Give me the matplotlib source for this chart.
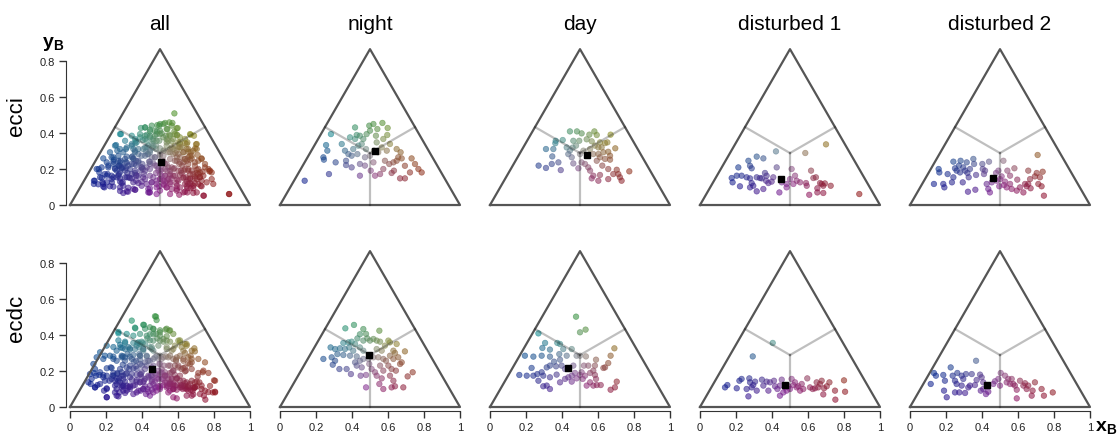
import numpy as np
import matplotlib.pyplot as plt

plt.rcParams['font.family'] = ['Liberation Sans', 'DejaVu Sans']
plt.rcParams['mathtext.fontset'] = 'custom'
plt.rcParams['mathtext.rm'] = 'Liberation Sans'
plt.rcParams['mathtext.bf'] = 'Liberation Sans:bold'

columns = ['all', 'night', 'day', 'disturbed 1', 'disturbed 2']
rows = ['ecci', 'ecdc']
xticks = [0, 0.2, 0.4, 0.6, 0.8, 1]
xticklabels = ['0', '0.2', '0.4', '0.6', '0.8', '1']
yticks = [0, 0.2, 0.4, 0.6, 0.8]
yticklabels = ['0', '0.2', '0.4', '0.6', '0.8']

# points (x_B, y_B)
ecci_night = [(0.137, 0.135), (0.283, 0.394), (0.256, 0.333), (0.263, 0.302), (0.241, 0.265),
              (0.244, 0.252), (0.309, 0.237), (0.272, 0.172), (0.343, 0.339), (0.361, 0.302),
              (0.389, 0.376), (0.417, 0.431), (0.417, 0.367), (0.426, 0.389), (0.444, 0.385),
              (0.454, 0.339), (0.463, 0.367), (0.481, 0.394), (0.496, 0.441), (0.519, 0.450),
              (0.541, 0.422), (0.569, 0.456), (0.598, 0.428), (0.500, 0.413), (0.533, 0.385),
              (0.574, 0.367), (0.596, 0.389), (0.380, 0.283), (0.367, 0.246), (0.398, 0.274),
              (0.407, 0.311), (0.430, 0.283), (0.444, 0.228), (0.398, 0.209), (0.367, 0.222),
              (0.472, 0.265), (0.500, 0.274), (0.522, 0.302), (0.546, 0.293), (0.565, 0.320),
              (0.593, 0.302), (0.611, 0.339), (0.583, 0.246), (0.607, 0.228), (0.630, 0.237),
              (0.648, 0.246), (0.657, 0.265), (0.676, 0.259), (0.694, 0.218), (0.731, 0.259),
              (0.750, 0.228), (0.769, 0.200), (0.787, 0.181), (0.722, 0.181), (0.694, 0.148),
              (0.667, 0.148), (0.633, 0.191), (0.620, 0.178), (0.574, 0.200), (0.556, 0.172),
              (0.528, 0.163), (0.504, 0.191), (0.444, 0.163), (0.472, 0.219), (0.519, 0.237),
              (0.648, 0.311), (0.670, 0.293), (0.435, 0.330), (0.478, 0.311), (0.537, 0.348)]
ecci_day = [(0.444, 0.409), (0.483, 0.409), (0.509, 0.398), (0.552, 0.391), (0.580, 0.409),
            (0.593, 0.389), (0.670, 0.391), (0.404, 0.361), (0.365, 0.357), (0.363, 0.343),
            (0.463, 0.357), (0.496, 0.357), (0.537, 0.365), (0.565, 0.354), (0.611, 0.348),
            (0.639, 0.344), (0.652, 0.348), (0.478, 0.330), (0.459, 0.319), (0.426, 0.320),
            (0.444, 0.302), (0.583, 0.330), (0.602, 0.320), (0.620, 0.320), (0.556, 0.311),
            (0.696, 0.315), (0.311, 0.311), (0.352, 0.311), (0.519, 0.302), (0.657, 0.296),
            (0.630, 0.293), (0.574, 0.283), (0.602, 0.283), (0.667, 0.274), (0.500, 0.283),
            (0.435, 0.283), (0.454, 0.265), (0.346, 0.270), (0.380, 0.237), (0.343, 0.228),
            (0.311, 0.206), (0.270, 0.219), (0.393, 0.194), (0.463, 0.231), (0.491, 0.204),
            (0.509, 0.237), (0.528, 0.228), (0.546, 0.209), (0.593, 0.246), (0.611, 0.265),
            (0.639, 0.256), (0.667, 0.252), (0.624, 0.219), (0.657, 0.200), (0.704, 0.196),
            (0.556, 0.191), (0.574, 0.163), (0.602, 0.135), (0.611, 0.167), (0.657, 0.144),
            (0.685, 0.172), (0.722, 0.154), (0.731, 0.135), (0.774, 0.187), (0.713, 0.172),
            (0.565, 0.148)]
ecci_d1 = [(0.422, 0.298), (0.585, 0.289), (0.700, 0.337), (0.885, 0.061), (0.315, 0.269),
           (0.352, 0.259), (0.269, 0.246), (0.213, 0.209), (0.278, 0.218), (0.287, 0.204),
           (0.426, 0.209), (0.509, 0.200), (0.617, 0.191), (0.176, 0.150), (0.181, 0.126),
           (0.204, 0.163), (0.231, 0.163), (0.259, 0.154), (0.278, 0.148), (0.315, 0.154),
           (0.333, 0.150), (0.361, 0.178), (0.370, 0.163), (0.367, 0.135), (0.380, 0.122),
           (0.398, 0.130), (0.407, 0.154), (0.222, 0.104), (0.278, 0.098), (0.296, 0.107),
           (0.315, 0.076), (0.352, 0.089), (0.441, 0.070), (0.454, 0.126), (0.481, 0.117),
           (0.481, 0.098), (0.500, 0.144), (0.519, 0.117), (0.528, 0.163), (0.537, 0.135),
           (0.556, 0.126), (0.589, 0.122), (0.593, 0.107), (0.607, 0.057), (0.630, 0.150),
           (0.644, 0.154), (0.652, 0.093), (0.652, 0.070), (0.667, 0.122), (0.676, 0.117),
           (0.685, 0.107), (0.685, 0.067), (0.694, 0.120), (0.726, 0.107), (0.287, 0.122),
           (0.343, 0.148)]
ecci_d2 = [(0.133, 0.117), (0.159, 0.200), (0.163, 0.181), (0.185, 0.117), (0.191, 0.098),
           (0.209, 0.172), (0.233, 0.126), (0.241, 0.241), (0.241, 0.154), (0.250, 0.204),
           (0.259, 0.191), (0.272, 0.219), (0.278, 0.181), (0.281, 0.246), (0.293, 0.126),
           (0.296, 0.209), (0.306, 0.191), (0.315, 0.237), (0.319, 0.178), (0.326, 0.154),
           (0.322, 0.074), (0.333, 0.200), (0.352, 0.256), (0.356, 0.228), (0.363, 0.085),
           (0.367, 0.167), (0.402, 0.228), (0.404, 0.200), (0.411, 0.172), (0.426, 0.117),
           (0.439, 0.241), (0.444, 0.070), (0.417, 0.191), (0.435, 0.089), (0.454, 0.126),
           (0.478, 0.178), (0.481, 0.135), (0.491, 0.191), (0.500, 0.144), (0.509, 0.159),
           (0.519, 0.246), (0.522, 0.111), (0.528, 0.130), (0.537, 0.098), (0.541, 0.191),
           (0.556, 0.117), (0.565, 0.089), (0.580, 0.204), (0.593, 0.080), (0.596, 0.141),
           (0.611, 0.098), (0.630, 0.070), (0.639, 0.117), (0.648, 0.104), (0.657, 0.191),
           (0.657, 0.117), (0.667, 0.144), (0.670, 0.093), (0.694, 0.159), (0.704, 0.178),
           (0.709, 0.278), (0.713, 0.117), (0.722, 0.154), (0.731, 0.104), (0.737, 0.185),
           (0.744, 0.052), (0.556, 0.163), (0.496, 0.104)]
ecci_all_extra = [(0.394, 0.428), (0.417, 0.431), (0.454, 0.441), (0.485, 0.444), (0.500, 0.450),
                  (0.528, 0.456), (0.552, 0.459), (0.565, 0.441), (0.593, 0.426), (0.537, 0.422),
                  (0.472, 0.413), (0.444, 0.419), (0.580, 0.509),
                  (0.278, 0.394), (0.343, 0.385), (0.361, 0.367), (0.389, 0.394), (0.417, 0.385),
                  (0.444, 0.376), (0.472, 0.385), (0.500, 0.394), (0.519, 0.376), (0.556, 0.385),
                  (0.583, 0.394), (0.611, 0.376), (0.639, 0.367), (0.667, 0.394), (0.689, 0.385),
                  (0.704, 0.339), (0.306, 0.357), (0.370, 0.348), (0.426, 0.357), (0.481, 0.357),
                  (0.546, 0.357), (0.602, 0.348), (0.648, 0.339), (0.250, 0.330), (0.278, 0.311),
                  (0.315, 0.320), (0.343, 0.330), (0.380, 0.311), (0.417, 0.320), (0.463, 0.330),
                  (0.500, 0.315), (0.537, 0.330), (0.574, 0.311), (0.611, 0.320), (0.657, 0.311),
                  (0.685, 0.302), (0.704, 0.311), (0.222, 0.293), (0.296, 0.293), (0.361, 0.293),
                  (0.444, 0.293), (0.556, 0.293), (0.630, 0.293), (0.185, 0.259), (0.231, 0.265),
                  (0.269, 0.274), (0.306, 0.256), (0.343, 0.265), (0.380, 0.246), (0.417, 0.274),
                  (0.472, 0.265), (0.519, 0.274), (0.556, 0.256), (0.593, 0.265), (0.639, 0.256),
                  (0.676, 0.274), (0.713, 0.246), (0.731, 0.256), (0.204, 0.237), (0.278, 0.237),
                  (0.444, 0.241), (0.611, 0.237), (0.694, 0.237), (0.148, 0.200), (0.176, 0.209),
                  (0.213, 0.219), (0.250, 0.200), (0.287, 0.209), (0.324, 0.219), (0.361, 0.191),
                  (0.398, 0.209), (0.444, 0.200), (0.481, 0.219), (0.528, 0.200), (0.565, 0.209),
                  (0.602, 0.191), (0.639, 0.200), (0.676, 0.191), (0.713, 0.200), (0.750, 0.209),
                  (0.778, 0.191), (0.241, 0.228), (0.537, 0.228), (0.657, 0.228), (0.133, 0.135),
                  (0.167, 0.154), (0.194, 0.172), (0.231, 0.144), (0.269, 0.163), (0.306, 0.154),
                  (0.343, 0.172), (0.380, 0.163), (0.417, 0.144), (0.463, 0.154), (0.500, 0.172),
                  (0.546, 0.144), (0.583, 0.163), (0.630, 0.154), (0.667, 0.172), (0.704, 0.144),
                  (0.741, 0.163), (0.787, 0.144), (0.796, 0.117), (0.759, 0.126), (0.204, 0.126),
                  (0.278, 0.130), (0.352, 0.126), (0.519, 0.135), (0.648, 0.130), (0.157, 0.115),
                  (0.185, 0.102), (0.241, 0.102), (0.278, 0.078), (0.324, 0.096), (0.361, 0.085),
                  (0.398, 0.107), (0.444, 0.093), (0.500, 0.080), (0.537, 0.098), (0.556, 0.061),
                  (0.593, 0.089), (0.639, 0.074), (0.685, 0.093), (0.741, 0.052), (0.704, 0.070),
                  (0.883, 0.061), (0.435, 0.070), (0.296, 0.067), (0.481, 0.061)]

ecdc_night = [(0.363, 0.437), (0.411, 0.456), (0.463, 0.433), (0.478, 0.406), (0.444, 0.404),
              (0.552, 0.424), (0.430, 0.381), (0.352, 0.356), (0.380, 0.359), (0.398, 0.363),
              (0.417, 0.350), (0.463, 0.369), (0.485, 0.381), (0.500, 0.369), (0.519, 0.378),
              (0.537, 0.369), (0.556, 0.363), (0.602, 0.369), (0.611, 0.359), (0.648, 0.350),
              (0.583, 0.341), (0.281, 0.331), (0.306, 0.322), (0.333, 0.326), (0.361, 0.322),
              (0.385, 0.331), (0.407, 0.313), (0.444, 0.331), (0.463, 0.313), (0.537, 0.322),
              (0.565, 0.313), (0.630, 0.313), (0.639, 0.300), (0.694, 0.309), (0.241, 0.267),
              (0.287, 0.276), (0.306, 0.257), (0.319, 0.294), (0.352, 0.289), (0.389, 0.285),
              (0.426, 0.281), (0.444, 0.257), (0.463, 0.267), (0.491, 0.267), (0.519, 0.276),
              (0.546, 0.276), (0.574, 0.267), (0.589, 0.257), (0.611, 0.285), (0.630, 0.267),
              (0.657, 0.276), (0.676, 0.248), (0.293, 0.235), (0.330, 0.211), (0.370, 0.211),
              (0.394, 0.183), (0.426, 0.230), (0.454, 0.220), (0.478, 0.178), (0.448, 0.174),
              (0.509, 0.211), (0.528, 0.193), (0.537, 0.174), (0.556, 0.230), (0.574, 0.202),
              (0.602, 0.230), (0.620, 0.211), (0.644, 0.202), (0.667, 0.239), (0.565, 0.159),
              (0.611, 0.174), (0.630, 0.146), (0.639, 0.115), (0.620, 0.109), (0.685, 0.109),
              (0.552, 0.128), (0.574, 0.100), (0.478, 0.109), (0.709, 0.170), (0.737, 0.193),
              (0.496, 0.239), (0.417, 0.248)]
ecdc_day = [(0.478, 0.502), (0.500, 0.415), (0.531, 0.430), (0.269, 0.409), (0.306, 0.356),
            (0.291, 0.328), (0.333, 0.319), (0.374, 0.356), (0.389, 0.350), (0.385, 0.294),
            (0.407, 0.322), (0.454, 0.322), (0.426, 0.285), (0.481, 0.285), (0.500, 0.285),
            (0.533, 0.281), (0.589, 0.263), (0.691, 0.326), (0.670, 0.285), (0.657, 0.244),
            (0.630, 0.217), (0.583, 0.230), (0.546, 0.230), (0.522, 0.230), (0.194, 0.285),
            (0.241, 0.280), (0.287, 0.285), (0.333, 0.280), (0.356, 0.252), (0.389, 0.263),
            (0.231, 0.217), (0.163, 0.178), (0.204, 0.174), (0.241, 0.174), (0.263, 0.183),
            (0.287, 0.193), (0.296, 0.174), (0.315, 0.220), (0.333, 0.230), (0.367, 0.226),
            (0.398, 0.230), (0.417, 0.211), (0.370, 0.180), (0.333, 0.165), (0.269, 0.146),
            (0.296, 0.115), (0.315, 0.119), (0.333, 0.100), (0.389, 0.137), (0.417, 0.156),
            (0.435, 0.165), (0.454, 0.174), (0.472, 0.189), (0.500, 0.178), (0.509, 0.193),
            (0.528, 0.174), (0.556, 0.189), (0.574, 0.202), (0.583, 0.178), (0.589, 0.156),
            (0.556, 0.137), (0.574, 0.119), (0.593, 0.122), (0.615, 0.122), (0.537, 0.119),
            (0.515, 0.156), (0.454, 0.141), (0.481, 0.159), (0.670, 0.096), (0.694, 0.109),
            (0.704, 0.141), (0.639, 0.220), (0.463, 0.230)]
ecdc_d1 = [(0.404, 0.356), (0.293, 0.281), (0.139, 0.109), (0.152, 0.122), (0.204, 0.104),
           (0.219, 0.146), (0.231, 0.156), (0.259, 0.100), (0.269, 0.059), (0.274, 0.159),
           (0.278, 0.137), (0.287, 0.109), (0.296, 0.122), (0.306, 0.141), (0.315, 0.091),
           (0.344, 0.152), (0.352, 0.119), (0.370, 0.141), (0.380, 0.091), (0.389, 0.137),
           (0.411, 0.146), (0.417, 0.115), (0.430, 0.100), (0.444, 0.063), (0.454, 0.152),
           (0.463, 0.081), (0.481, 0.091), (0.491, 0.115), (0.500, 0.100), (0.509, 0.156),
           (0.519, 0.122), (0.528, 0.137), (0.537, 0.109), (0.546, 0.115), (0.556, 0.091),
           (0.565, 0.128), (0.574, 0.100), (0.596, 0.159), (0.611, 0.109), (0.626, 0.100),
           (0.639, 0.104), (0.648, 0.137), (0.657, 0.109), (0.667, 0.128), (0.676, 0.146),
           (0.685, 0.070), (0.689, 0.104), (0.704, 0.115), (0.719, 0.137), (0.750, 0.091),
           (0.752, 0.041), (0.800, 0.148), (0.806, 0.085), (0.444, 0.119), (0.472, 0.109)]
ecdc_d2 = [(0.367, 0.257), (0.133, 0.189), (0.115, 0.128), (0.144, 0.174), (0.185, 0.178),
           (0.194, 0.146), (0.226, 0.220), (0.237, 0.174), (0.250, 0.146), (0.259, 0.128),
           (0.263, 0.189), (0.287, 0.174), (0.296, 0.156), (0.311, 0.183), (0.324, 0.109),
           (0.333, 0.119), (0.343, 0.183), (0.361, 0.122), (0.370, 0.150), (0.389, 0.180),
           (0.398, 0.165), (0.407, 0.137), (0.189, 0.091), (0.204, 0.054), (0.250, 0.081),
           (0.274, 0.081), (0.287, 0.119), (0.306, 0.078), (0.393, 0.091), (0.407, 0.100),
           (0.422, 0.072), (0.435, 0.085), (0.463, 0.128), (0.472, 0.143), (0.491, 0.156),
           (0.504, 0.189), (0.528, 0.174), (0.537, 0.137), (0.546, 0.156), (0.556, 0.128),
           (0.565, 0.156), (0.574, 0.128), (0.583, 0.119), (0.593, 0.096), (0.593, 0.048),
           (0.611, 0.146), (0.630, 0.119), (0.639, 0.132), (0.648, 0.100), (0.657, 0.119),
           (0.676, 0.063), (0.681, 0.091), (0.694, 0.137), (0.731, 0.100), (0.744, 0.063),
           (0.793, 0.081), (0.500, 0.119)]
ecdc_all_extra = [(0.472, 0.504), (0.481, 0.483), (0.343, 0.480), (0.361, 0.441), (0.407, 0.457),
                  (0.417, 0.435), (0.444, 0.443), (0.463, 0.435), (0.500, 0.426), (0.537, 0.435),
                  (0.556, 0.426), (0.269, 0.417), (0.315, 0.406), (0.352, 0.396), (0.389, 0.406),
                  (0.426, 0.396), (0.463, 0.406), (0.500, 0.396), (0.537, 0.393), (0.574, 0.406),
                  (0.611, 0.370), (0.269, 0.370), (0.306, 0.363), (0.444, 0.370), (0.519, 0.363),
                  (0.639, 0.350), (0.204, 0.341), (0.241, 0.333), (0.278, 0.346), (0.324, 0.333),
                  (0.370, 0.341), (0.407, 0.322), (0.454, 0.333), (0.491, 0.341), (0.537, 0.333),
                  (0.574, 0.322), (0.620, 0.333), (0.648, 0.341), (0.676, 0.313), (0.167, 0.304),
                  (0.259, 0.313), (0.148, 0.276), (0.185, 0.267), (0.222, 0.285), (0.259, 0.257),
                  (0.306, 0.276), (0.343, 0.267), (0.389, 0.285), (0.435, 0.257), (0.472, 0.276),
                  (0.509, 0.267), (0.556, 0.285), (0.593, 0.276), (0.630, 0.257), (0.676, 0.267),
                  (0.713, 0.267), (0.750, 0.248), (0.130, 0.239), (0.389, 0.239), (0.500, 0.239),
                  (0.111, 0.183), (0.139, 0.211), (0.167, 0.193), (0.204, 0.215), (0.241, 0.189),
                  (0.278, 0.211), (0.315, 0.189), (0.352, 0.215), (0.398, 0.193), (0.435, 0.174),
                  (0.491, 0.202), (0.528, 0.174), (0.565, 0.193), (0.602, 0.220), (0.639, 0.198),
                  (0.676, 0.211), (0.713, 0.189), (0.741, 0.202), (0.769, 0.189), (0.806, 0.146),
                  (0.120, 0.156), (0.185, 0.165), (0.259, 0.159), (0.593, 0.159), (0.102, 0.137),
                  (0.139, 0.109), (0.167, 0.128), (0.204, 0.100), (0.250, 0.119), (0.296, 0.091),
                  (0.333, 0.111), (0.370, 0.081), (0.407, 0.100), (0.454, 0.096), (0.500, 0.109),
                  (0.546, 0.081), (0.574, 0.100), (0.620, 0.119), (0.657, 0.091), (0.694, 0.109),
                  (0.731, 0.119), (0.769, 0.083), (0.806, 0.081), (0.204, 0.054), (0.259, 0.063),
                  (0.352, 0.072), (0.574, 0.054), (0.648, 0.063), (0.722, 0.072), (0.778, 0.117)]

ecci_all = ecci_night + ecci_day + ecci_d1 + ecci_d2 + ecci_all_extra
ecdc_all = ecdc_night + ecdc_day + ecdc_d1 + ecdc_d2 + ecdc_all_extra

panels = [[ecci_all, ecci_night, ecci_day, ecci_d1, ecci_d2],
          [ecdc_all, ecdc_night, ecdc_day, ecdc_d1, ecdc_d2]]

# mean positions (black squares)
means = [[(0.504, 0.237), (0.530, 0.298), (0.540, 0.278), (0.450, 0.144), (0.463, 0.150)],
         [(0.454, 0.211), (0.493, 0.289), (0.431, 0.217), (0.470, 0.122), (0.426, 0.124)]]

H = np.sqrt(3) / 2


def bary_colors(pts):
    x, y = pts[:, 0], pts[:, 1]
    top = y / H
    right = x - y / np.sqrt(3)
    left = 1 - x - y / np.sqrt(3)
    rgb = np.clip(np.column_stack([right, top, left]), 0, 1)
    rgb = rgb / rgb.max(axis=1, keepdims=True) * 0.55
    return rgb


fig = plt.figure(figsize=(11.17, 4.39), dpi=100)

for r in range(2):
    for c in range(5):
        left = (66.4 + 210 * c) / 1117
        bottom = 0.5225 if r == 0 else 0.0624
        ax = fig.add_axes([left, bottom, 187.2 / 1117, 165.6 / 439])
        ax.set_xlim(-0.02, 1.02)
        ax.set_ylim(-0.02, 0.9)

        # triangle + inner lines
        ax.plot([0, 1, 0.5, 0], [0, 0, H, 0], color='#555555', lw=1.6, zorder=3, clip_on=False)
        cx, cy = 0.5, H / 3
        for mx, my in [(0.5, 0), (0.25, H / 2), (0.75, H / 2)]:
            ax.plot([cx, mx], [cy, my], color='k', alpha=0.25, lw=1.6, zorder=3)

        pts = np.array(panels[r][c])
        cols = bary_colors(pts)
        ax.scatter(pts[:, 0], pts[:, 1], s=16, c=cols, alpha=0.55, linewidths=0.5,
                   edgecolors=cols, zorder=2)
        ax.plot(*means[r][c], marker='s', color='k', ms=5, zorder=4)

        for s in ['top', 'right']:
            ax.spines[s].set_visible(False)
        if c == 0:
            ax.spines['left'].set_bounds(0, 0.8)
            ax.spines['left'].set_color('#333333')
            ax.set_yticks(yticks)
            ax.set_yticklabels(yticklabels)
            ax.text(-0.264, 0.566, rows[r], transform=ax.transAxes, rotation=90,
                    ha='center', va='center', fontsize=16)
        else:
            ax.spines['left'].set_visible(False)
            ax.set_yticks([])
        if r == 1:
            ax.spines['bottom'].set_bounds(0, 1)
            ax.spines['bottom'].set_color('#333333')
            ax.set_xticks(xticks)
            ax.set_xticklabels(xticklabels)
        else:
            ax.spines['bottom'].set_visible(False)
            ax.set_xticks([])
        ax.tick_params(length=5, width=1, colors='#333333', labelsize=8, labelcolor='#222222')
        if r == 0:
            ax.set_title(columns[c], fontsize=15, pad=10)

fig.text(53 / 1117, 1 - 44 / 439, r'$\mathbf{y_B}$', fontsize=14, ha='center', va='center')
fig.text(1106 / 1117, 11 / 439, r'$\mathbf{x_B}$', fontsize=14, ha='center', va='center')

fig.savefig('out.png', dpi=100)
